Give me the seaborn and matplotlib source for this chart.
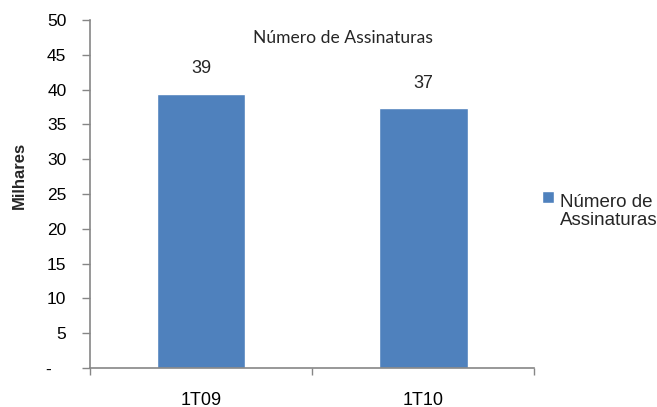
import matplotlib
matplotlib.use("Agg")
import matplotlib.pyplot as plt
import seaborn as sns
from matplotlib.patches import Rectangle
from matplotlib.legend_handler import HandlerPatch

# -----------------------------
# Data
# -----------------------------
periodos = ["1T09", "1T10"]
assinaturas = [39.4, 37.3]  # milhares
rotulos = ["39", "37"]
yticks = [0, 5, 10, 15, 20, 25, 30, 35, 40, 45, 50]
ytick_labels = ["-   "] + [str(v) for v in yticks[1:]]

serie = "Número de\nAssinaturas"
titulo = "Número de Assinaturas"
cor = "#4F81BD"
cinza = "#868686"

# -----------------------------
# Style
# -----------------------------
sns.set_theme(style="white")
plt.rcParams["font.family"] = ["Liberation Sans", "DejaVu Sans"]

fig = plt.figure(figsize=(6.57, 4.07), dpi=100)
ax = fig.add_axes([0.137, 0.096, 0.676, 0.855])

sns.barplot(x=periodos, y=assinaturas, color=cor, saturation=1, width=0.4, ax=ax)

ax.set_ylim(0, 50)
ax.set_xlim(-0.5, 1.5)
ax.set_yticks(yticks)
ax.set_yticklabels(ytick_labels, fontsize=12.5, color="black")
ax.set_xticks(range(len(periodos)))
ax.set_xticklabels(periodos, fontsize=13, color="black")
ax.set_xticks([-0.5, 0.5, 1.5], minor=True)
ax.tick_params(axis="x", which="major", length=0, pad=17)
ax.tick_params(axis="x", which="minor", length=5, color=cinza, width=1, direction="out", bottom=True)
ax.tick_params(axis="y", length=6, color=cinza, width=1, direction="out", left=True, pad=11)

for s in ["top", "right"]:
    ax.spines[s].set_visible(False)
for s in ["left", "bottom"]:
    ax.spines[s].set_color(cinza)
    ax.spines[s].set_linewidth(1.2)

ax.set_ylabel("Milhares", fontsize=12, fontweight="bold")
ax.yaxis.set_label_coords(-0.142, 0.552)
ax.set_xlabel("")

ax.text(0.57, 0.948, titulo, transform=ax.transAxes, ha="center", va="center",
        fontsize=12.6, family=["Lato", "DejaVu Sans"])

ax.bar_label(ax.containers[0], labels=rotulos, padding=12, fontsize=13)


# legend square sits next to the first text line, as in the original
def quadrado(legend, orig_handle, xdescent, ydescent, width, height, fontsize):
    return Rectangle((-xdescent, -ydescent + 0.75 * fontsize), width, height)


leg = ax.legend(handles=[ax.patches[0]], labels=[serie], loc="upper left",
                bbox_to_anchor=(0.8, 0.565), bbox_transform=fig.transFigure,
                frameon=False, fontsize=13.5, handlelength=0.62, handleheight=0.62,
                handletextpad=0.3, labelspacing=0.2,
                handler_map={Rectangle: HandlerPatch(patch_func=quadrado)})
for t in leg.get_texts():
    t.set_linespacing(1.05)

fig.savefig("out.png", dpi=100)
